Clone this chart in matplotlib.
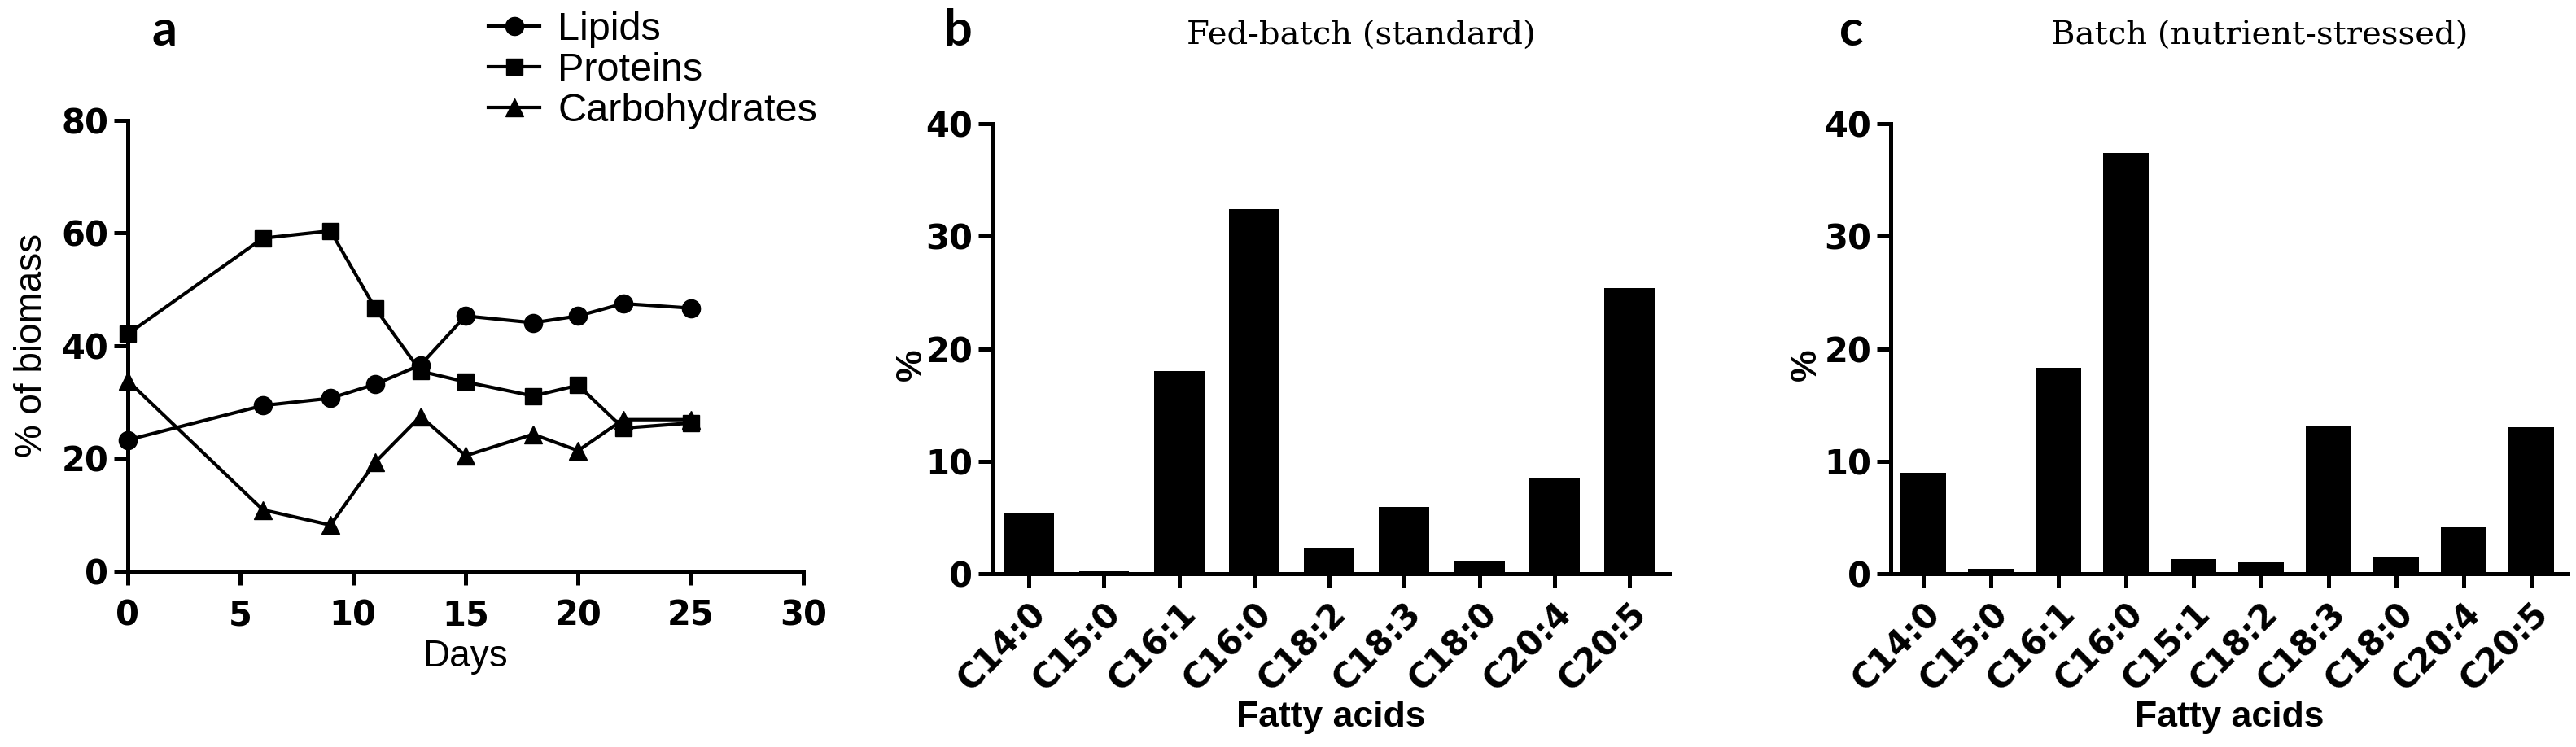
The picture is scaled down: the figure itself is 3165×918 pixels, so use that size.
import numpy as np
import matplotlib
matplotlib.use("Agg")
import matplotlib.pyplot as plt

# dati pannello a: composizione della biomassa
giorni = [0, 6, 9, 11, 13, 15, 18, 20, 22, 25]
lipidi = [23.3, 29.4, 30.7, 33.2, 36.6, 45.3, 44.1, 45.3, 47.5, 46.7]
proteine = [42.1, 59.1, 60.4, 46.6, 35.5, 33.6, 31.1, 33.0, 25.4, 26.3]
carboidrati = [33.8, 10.9, 8.2, 19.4, 27.5, 20.5, 24.3, 21.4, 26.9, 26.9]

# dati pannello b: fed-batch
acidi_b = ['C14:0', 'C15:0', 'C16:1', 'C16:0', 'C18:2', 'C18:3', 'C18:0', 'C20:4', 'C20:5']
perc_b = [5.4, 0.25, 18.0, 32.4, 2.3, 5.9, 1.1, 8.5, 25.4]

# dati pannello c: batch
acidi_c = ['C14:0', 'C15:0', 'C16:1', 'C16:0', 'C15:1', 'C18:2', 'C18:3', 'C18:0', 'C20:4', 'C20:5']
perc_c = [9.0, 0.47, 18.3, 37.4, 1.3, 1.0, 13.2, 1.5, 4.1, 13.0]

W, H = 3165, 918
NARROW = 'Liberation Sans Narrow'
SANS = 'Liberation Sans'


def box(l, r, top, bot):
    return [l / W, 1 - bot / H, (r - l) / W, (bot - top) / H]


def stile(ax):
    for s in ['top', 'right']:
        ax.spines[s].set_visible(False)
    for s in ['left', 'bottom']:
        ax.spines[s].set_linewidth(3.6)
    ax.tick_params(direction='out', length=12, width=3.6)
    ax.tick_params(axis='y', pad=5)
    for t in ax.get_xticklabels() + ax.get_yticklabels():
        t.set_fontfamily(NARROW)
        t.set_fontweight('bold')
        t.set_fontsize(30)


fig = plt.figure(figsize=(W / 100, H / 100), dpi=100)

# pannello a
ax1 = fig.add_axes(box(157, 987, 148, 702))
ax1.plot(giorni, lipidi, 'k-', marker='o', ms=16, lw=3, label='Lipids', clip_on=False)
ax1.plot(giorni, proteine, 'k-', marker='s', ms=15, lw=3, label='Proteins', clip_on=False)
ax1.plot(giorni, carboidrati, 'k-', marker='^', ms=16, lw=3, label='Carbohydrates', clip_on=False)
ax1.set_xlim(0, 30)
ax1.set_ylim(0, 80)
ax1.set_xticks([0, 5, 10, 15, 20, 25, 30])
ax1.set_yticks([0, 20, 40, 60, 80])
stile(ax1)
ax1.tick_params(axis='x', pad=12)
ax1.set_xlabel('Days', fontfamily=SANS, fontsize=33)
ax1.xaxis.set_label_coords(0.5, -0.19)
ax1.xaxis.label.set_va('center')
ax1.set_ylabel('% of biomass', fontfamily=SANS, fontsize=33, labelpad=10)
ax1.legend(loc='upper left', bbox_to_anchor=(600 / W, 1 - 14 / H), bbox_transform=fig.transFigure,
           frameon=False, prop={'family': SANS, 'size': 35}, handlelength=1.3,
           handletextpad=0.45, labelspacing=0.1, borderpad=0, borderaxespad=0)
fig.text(202 / W, 1 - 38 / H, 'a', fontfamily='Lato', fontweight='bold', fontsize=44,
         ha='center', va='center')


def barre(ax, nomi, valori, titolo, lettera, x_lett, xlim, x_perc):
    x = np.arange(len(nomi))
    ax.bar(x, valori, width=0.67, color='black')
    ax.set_xlim(*xlim)
    ax.set_ylim(0, 40)
    ax.set_yticks([0, 10, 20, 30, 40])
    ax.set_xticks(x)
    ax.set_xticklabels(nomi, rotation=45, ha='right', rotation_mode='anchor')
    stile(ax)
    ax.tick_params(axis='x', pad=8)
    ax.set_xlabel('Fatty acids', fontfamily=SANS, fontweight='bold', fontsize=32)
    ax.xaxis.set_label_coords(0.5, -0.32)
    ax.xaxis.label.set_va('center')
    ax.set_ylabel('%', fontfamily=SANS, fontweight='bold', fontsize=32)
    ax.yaxis.set_label_coords(x_perc, 0.465)
    ax.yaxis.label.set_va('center')
    ax.set_title(titolo, fontfamily='DejaVu Serif', fontsize=29, pad=0, x=0.545, y=1.175)
    fig.text(x_lett / W, 1 - 38 / H, lettera, fontfamily='Lato', fontweight='bold', fontsize=44,
             ha='center', va='center')


ax2 = fig.add_axes(box(1219, 2051, 152, 705))
barre(ax2, acidi_b, perc_b, 'Fed-batch (standard)', 'b', 1177, (-0.49, 8.53), -0.119)

ax3 = fig.add_axes(box(2323, 3155, 152, 705))
barre(ax3, acidi_c, perc_c, 'Batch (nutrient-stressed)', 'c', 2275, (-0.48, 9.54), -0.124)

plt.savefig('out.png', dpi=100)
